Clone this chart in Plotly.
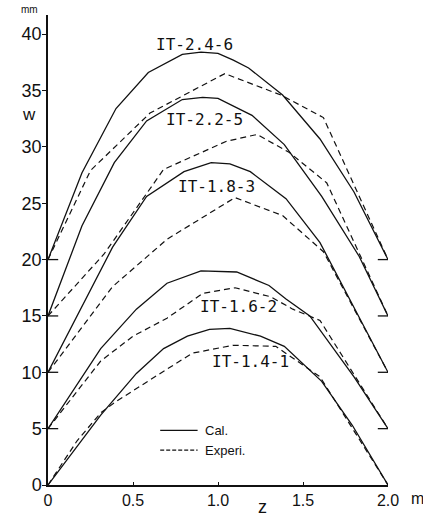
import plotly.graph_objects as go

# Deflection w (mm) along the span z (m) for five test beams.
# Each beam's curve is shifted upward by its own baseline offset.
names = ["IT-1.4-1", "IT-1.6-2", "IT-1.8-3", "IT-2.2-5", "IT-2.4-6"]
offsets = [0, 5, 10, 15, 20]

# Calculated curves (solid)
cal_z = {
    "IT-1.4-1": [0, 0.31, 0.52, 0.68, 0.82, 0.95, 1.07, 1.25, 1.39, 1.61, 1.79, 2.0],
    "IT-1.6-2": [0, 0.31, 0.52, 0.70, 0.90, 1.11, 1.30, 1.40, 1.54, 1.80, 2.0],
    "IT-1.8-3": [0, 0.38, 0.58, 0.80, 0.96, 1.07, 1.19, 1.40, 1.60, 1.80, 2.0],
    "IT-2.2-5": [0, 0.20, 0.39, 0.58, 0.79, 0.91, 1.00, 1.11, 1.20, 1.39, 1.61, 1.83, 2.0],
    "IT-2.4-6": [0, 0.20, 0.40, 0.59, 0.79, 0.90, 1.00, 1.09, 1.18, 1.38, 1.60, 1.80, 2.0],
}
cal_w = {
    "IT-1.4-1": [0, 6.2, 9.9, 12.1, 13.2, 13.8, 13.9, 13.2, 12.3, 9.2, 5.3, 0],
    "IT-1.6-2": [5, 12.1, 15.6, 17.9, 19.0, 18.9, 17.7, 16.5, 15.0, 9.6, 5],
    "IT-1.8-3": [10, 21.1, 25.6, 27.8, 28.6, 28.5, 27.8, 25.4, 21.5, 15.8, 10],
    "IT-2.2-5": [15, 23.0, 28.6, 32.3, 34.2, 34.4, 34.3, 33.5, 32.8, 30.2, 25.6, 20.3, 15],
    "IT-2.4-6": [20, 27.7, 33.4, 36.6, 38.2, 38.4, 38.3, 37.7, 37.0, 34.6, 30.7, 26.0, 20],
}

# Measured curves (dashed)
exp_z = {
    "IT-1.4-1": [0, 0.17, 0.31, 0.40, 0.66, 0.85, 1.09, 1.34, 1.60, 2.0],
    "IT-1.6-2": [0, 0.31, 0.50, 0.70, 0.91, 1.10, 1.31, 1.44, 1.60, 2.0],
    "IT-1.8-3": [0, 0.38, 0.70, 1.10, 1.38, 1.62, 2.0],
    "IT-2.2-5": [0, 0.33, 0.68, 1.05, 1.23, 1.42, 1.64, 2.0],
    "IT-2.4-6": [0, 0.25, 0.60, 1.04, 1.37, 1.62, 2.0],
}
exp_w = {
    "IT-1.4-1": [0, 3.9, 6.4, 7.4, 9.9, 11.7, 12.4, 12.3, 9.6, 0],
    "IT-1.6-2": [5, 11.0, 13.2, 14.8, 17.0, 17.5, 16.7, 15.6, 14.6, 5],
    "IT-1.8-3": [10, 17.6, 21.8, 25.5, 23.9, 20.7, 10],
    "IT-2.2-5": [15, 20.5, 28.0, 30.5, 31.1, 29.5, 26.8, 15],
    "IT-2.4-6": [20, 27.9, 33.0, 36.5, 34.6, 32.6, 20],
}

# Curve label centres (z, w)
label_pos = {
    "IT-2.4-6": (0.86, 39.1),
    "IT-2.2-5": (0.92, 32.4),
    "IT-1.8-3": (0.99, 26.5),
    "IT-1.6-2": (1.12, 15.8),
    "IT-1.4-1": (1.19, 10.95),
}

y_ticks = [0, 5, 10, 15, 20, 25, 30, 35, 40]
x_ticks = [0, 0.5, 1.0, 1.5, 2.0]
x_labels = ["0", "0.5", "1.0", "1.5", "2.0"]

INK = "#111111"
FONT = "Liberation Sans"
LABEL_FONT = "DejaVu Sans Mono"

fig = go.Figure()

for n in names:
    fig.add_trace(go.Scatter(
        x=cal_z[n], y=cal_w[n], mode="lines",
        line=dict(color=INK, width=1.3), showlegend=False, hoverinfo="skip"))
    fig.add_trace(go.Scatter(
        x=exp_z[n], y=exp_w[n], mode="lines",
        line=dict(color=INK, width=1.2, dash="6px,4px"), showlegend=False,
        hoverinfo="skip"))

# Baseline markers at both ends of each shifted curve
for off in offsets[1:]:
    fig.add_shape(type="line", xref="x", yref="y", x0=0, x1=0.06, y0=off, y1=off,
                  line=dict(color=INK, width=1.3))
    fig.add_shape(type="line", xref="x", yref="y", x0=1.94, x1=2.0, y0=off, y1=off,
                  line=dict(color=INK, width=1.3))

for n in names:
    zx, wy = label_pos[n]
    fig.add_annotation(x=zx, y=wy, text=n, showarrow=False,
                       font=dict(family=LABEL_FONT, size=16, color=INK),
                       xanchor="center", yanchor="middle")

# Legend drawn as plain line samples with text
legend_items = [("Cal.", "solid"), ("Experi.", "4px,2px")]
for i, (txt, dash) in enumerate(legend_items):
    yy = 4.85 - i * 1.75
    fig.add_shape(type="line", xref="x", yref="y", x0=0.66, x1=0.88, y0=yy, y1=yy,
                  line=dict(color=INK, width=1.2, dash=dash))
    fig.add_annotation(x=0.91, y=yy, text=txt, showarrow=False,
                       font=dict(family=FONT, size=13, color=INK),
                       xanchor="left", yanchor="middle")

# Axis titles and units
fig.add_annotation(x=0, y=41.5, text="mm", showarrow=False, xref="x", yref="y",
                   xanchor="right", yanchor="bottom", xshift=-8,
                   font=dict(family=FONT, size=10, color=INK))
fig.add_annotation(x=0, y=32.9, text="w", showarrow=False, xref="x", yref="y",
                   xanchor="right", yanchor="middle", xshift=-10,
                   font=dict(family=FONT, size=17, color=INK))
fig.add_annotation(x=1.26, y=0, text="z", showarrow=False, xref="x", yref="y",
                   xanchor="center", yanchor="middle", yshift=-22,
                   font=dict(family=FONT, size=18, color=INK))
fig.add_annotation(x=2.0, y=0, text="m", showarrow=False, xref="x", yref="y",
                   xanchor="left", yanchor="top", xshift=21, yshift=-3,
                   font=dict(family=FONT, size=16, color=INK))

fig.update_xaxes(range=[0, 2.0], tickvals=x_ticks, ticktext=x_labels,
                 showgrid=False, zeroline=False, showline=True, linecolor=INK,
                 linewidth=1.5, ticks="inside", ticklen=3, tickcolor=INK,
                 tickfont=dict(family=FONT, size=16, color=INK))
fig.update_yaxes(range=[0, 41.7], tickvals=y_ticks, showgrid=False, zeroline=False,
                 showline=True, linecolor=INK, linewidth=1.5, ticks="outside",
                 ticklen=4, tickcolor=INK, ticklabelstandoff=-3,
                 tickfont=dict(family=FONT, size=18, color=INK))

fig.update_layout(width=423, height=521, plot_bgcolor="white", paper_bgcolor="white",
                  margin=dict(l=48, r=35, t=15, b=34), showlegend=False)

fig.write_html("out.html")
